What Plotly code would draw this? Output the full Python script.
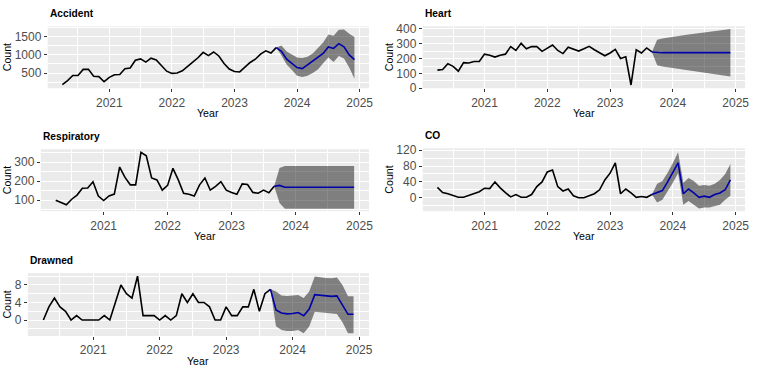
import plotly.graph_objects as go

# ---------------- data (monthly, Apr 2020 .. Sep 2023 observed; Oct 2023 .. Dec 2024 forecast)
first_year, first_month = 2020, 4
n_obs = 42
n_fc = 15

accident_obs = [180, 290, 430, 430, 600, 600, 410, 400, 260, 380, 450, 460, 620, 640,
                850, 890, 800, 910, 860, 700, 550, 490, 500, 560, 690, 800, 920, 1070,
                980, 1080, 970, 760, 610, 540, 530, 650, 790, 880, 1020, 1110, 1050, 1200]
accident_fc = [1100, 880, 770, 650, 620, 720, 840, 940, 1040, 1220, 1177, 1310, 1220, 1000, 867]
accident_lo = [980, 735, 580, 425, 390, 425, 500, 600, 770, 930, 800, 970, 900, 650, 340]
accident_hi = [1260, 1090, 1000, 930, 915, 950, 1040, 1180, 1340, 1560, 1530, 1690, 1700, 1580, 1490]

heart_obs = [122, 126, 165, 148, 115, 173, 170, 180, 180, 230, 223, 210, 223, 230,
             281, 255, 303, 266, 281, 281, 249, 270, 292, 255, 234, 277, 266, 251,
             266, 283, 260, 238, 219, 238, 262, 201, 212, 22, 260, 238, 272, 245]
heart_fc = [240, 240, 240, 240, 240, 240, 240, 240, 240, 240, 240, 240, 240, 240, 240]
heart_lo = [155, 147, 140, 133, 128, 122, 117, 112, 108, 104, 100, 95, 90, 85, 80]
heart_hi = [327, 335, 342, 348, 353, 358, 363, 367, 372, 377, 381, 386, 390, 395, 400]

resp_obs = [100, 88, 76, 105, 127, 163, 164, 197, 122, 98, 122, 132, 275, 220,
            181, 181, 353, 334, 217, 207, 153, 178, 268, 207, 136, 131, 122, 181,
            217, 153, 173, 198, 153, 141, 131, 186, 183, 141, 137, 153, 139, 173]
resp_fc = [178, 168, 168, 168, 168, 168, 168, 168, 168, 168, 168, 168, 168, 168, 168]
resp_lo = [85, 55, 55, 55, 55, 55, 55, 55, 55, 55, 55, 55, 55, 55, 55]
resp_hi = [270, 280, 280, 280, 280, 280, 280, 280, 280, 280, 280, 280, 280, 280, 280]

co_obs = [26, 13, 10, 5, 1, 1, 5, 10, 15,
          24, 23, 40, 25, 13, 2, 8, 1, 1, 8, 28, 40,
          65, 70, 28, 17, 22, 5, 0, 0, 5, 10, 20, 45,
          62, 88, 10, 22, 12, 1, 3, 1, 8]
co_fc = [12, 18, 40, 64, 88, 10, 22, 12, 1, 4, 1, 8, 12, 20, 45]
co_lo = [-12, -5, 15, 38, 62, -18, -8, -18, -27, -25, -25, -22, -18, -5, 5]
co_hi = [35, 42, 63, 88, 115, 38, 50, 42, 30, 32, 30, 35, 45, 60, 85]

drown_obs = [0, 3, 5, 3, 2, 0, 1, 0, 0, 0, 0, 1, 0, 4, 8, 6, 5, 10, 1, 1, 1,
             0, 1, 0, 1, 6, 4, 6, 4, 4, 3, 0, 0, 3, 1, 1, 3, 3, 7, 2, 6, 7]
drown_fc = [2.3, 1.6, 1.4, 1.5, 1.7, 1.0, 2.5, 5.8, 5.7, 5.6, 5.4, 5.5, 3.5, 1.3, 1.3]
drown_lo = [-1.4, -2.3, -2.5, -2.5, -2.3, -3.0, -1.5, 1.9, 1.8, 1.7, 1.5, 1.4, -0.5, -3.0, -3.0]
drown_hi = [6.5, 5.6, 5.5, 5.6, 5.7, 5.0, 6.5, 9.9, 9.7, 9.6, 9.5, 9.7, 8.0, 5.4, 5.4]

titles = ["Accident", "Heart", "Respiratory", "CO", "Drawned"]
year_ticks = [2021, 2022, 2023, 2024, 2025]

# ---------------- time index (decimal years, like R ts)
t_all = [first_year + (first_month - 1 + i) / 12 for i in range(n_obs + n_fc)]
t_obs = t_all[:n_obs]
t_fc = t_all[n_obs - 1:]          # includes last observed month as anchor

W, H = 760, 374
FONT = "Liberation Sans, Arial, sans-serif"

# panel boxes in pixels: (left, right, top, bottom), y range, major dtick, minor dtick
panels = [
    (titles[0], accident_obs, accident_fc, accident_lo, accident_hi, (48, 371, 22, 86), [80, 1788], 500, 250),
    (titles[1], heart_obs, heart_fc, heart_lo, heart_hi, (425, 749, 22, 86), [0, 418], 100, 50),
    (titles[2], resp_obs, resp_fc, resp_lo, resp_hi, (41, 371, 149, 213), [42, 369], 100, 50),
    (titles[3], co_obs, co_fc, co_lo, co_hi, (425, 749, 148, 213), [-34, 125], 40, 20),
    (titles[4], drown_obs, drown_fc, drown_lo, drown_hi, (28, 371, 277, 342), [-3.65, 10.7], 4, 2),
]

span = t_all[-1] - t_all[0]
xr = [t_all[0] - 0.05 * span, t_all[-1] + 0.05 * span]

fig = go.Figure()
annotations = []
layout = {}

def px_x(p):
    return p / W

def px_y(p):
    return 1 - p / H

for n, (title, obs, fc, lo, hi, box, yr, dt, mdt) in enumerate(panels, start=1):
    xa = "x" if n == 1 else f"x{n}"
    ya = "y" if n == 1 else f"y{n}"
    last = obs[-1]
    band_hi = [last] + hi
    band_lo = [last] + lo
    fig.add_trace(go.Scatter(
        x=t_fc + t_fc[::-1], y=band_hi + band_lo[::-1],
        fill="toself", fillcolor="rgba(0,0,0,0.46)", line=dict(width=0),
        mode="lines", hoverinfo="skip", showlegend=False, xaxis=xa, yaxis=ya))
    fig.add_trace(go.Scatter(
        x=t_obs, y=obs, mode="lines", line=dict(color="black", width=1.6),
        showlegend=False, xaxis=xa, yaxis=ya))
    fig.add_trace(go.Scatter(
        x=t_fc, y=[last] + fc, mode="lines", line=dict(color="#0000AA", width=1.6),
        showlegend=False, xaxis=xa, yaxis=ya))

    l, r, t, b = box
    axis_common = dict(
        showline=False, zeroline=False, showgrid=True, gridcolor="white", gridwidth=1.1,
        ticks="outside", ticklen=3, tickwidth=1, tickcolor="#333333",
        tickfont=dict(family=FONT, size=12, color="#4D4D4D"),
    )
    xkey = "xaxis" if n == 1 else f"xaxis{n}"
    ykey = "yaxis" if n == 1 else f"yaxis{n}"
    layout[xkey] = dict(
        axis_common, domain=[px_x(l), px_x(r)], anchor=ya, range=xr,
        tickmode="array", tickvals=year_ticks, ticktext=[str(v) for v in year_ticks],
        minor=dict(tickmode="linear", tick0=2020.5, dtick=1, showgrid=True,
                   gridcolor="white", gridwidth=0.55, ticks=""),
    )
    layout[ykey] = dict(
        axis_common, domain=[px_y(b), px_y(t)], anchor=xa, range=yr,
        tickmode="linear", tick0=0, dtick=dt, tickformat="d",
        minor=dict(tickmode="linear", tick0=0, dtick=mdt, showgrid=True,
                   gridcolor="white", gridwidth=0.55, ticks=""),
    )
    annotations.append(dict(
        text=f"<b>{title}</b>", x=px_x(l), y=px_y(t - 13), xref="paper", yref="paper",
        xanchor="left", yanchor="middle", showarrow=False,
        font=dict(family=FONT, size=10.2, color="black")))
    annotations.append(dict(
        text="Year", x=px_x((l + r) / 2), y=px_y(b + 26), xref="paper", yref="paper",
        xanchor="center", yanchor="middle", showarrow=False,
        font=dict(family=FONT, size=10.6, color="black")))
    cx = 7 if l < 380 else 391
    annotations.append(dict(
        text="Count", x=px_x(cx), y=px_y((t + b) / 2), xref="paper", yref="paper",
        xanchor="center", yanchor="middle", showarrow=False, textangle=-90,
        font=dict(family=FONT, size=10.6, color="black")))

fig.update_layout(
    width=W, height=H, autosize=False,
    margin=dict(l=0, r=0, t=0, b=0),
    paper_bgcolor="white", plot_bgcolor="#EBEBEB",
    annotations=annotations, showlegend=False,
    **layout,
)

fig.write_html(
    "out.html",
    config={"displayModeBar": False},
    post_script="document.body.style.margin='0';document.body.style.padding='0';",
)
